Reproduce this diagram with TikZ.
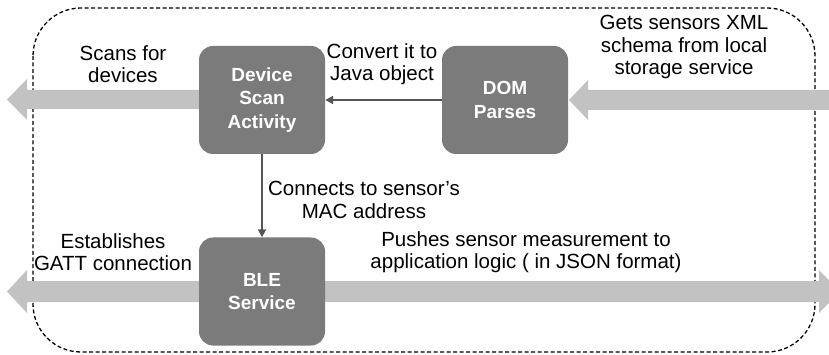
\documentclass[tikz,border=0pt]{standalone}
\usepackage{fontspec}
\setmainfont{Liberation Sans}
\usetikzlibrary{arrows.meta}
\definecolor{boxgray}{HTML}{7B7B7B}
\definecolor{flowgray}{HTML}{C2C2C2}
\definecolor{linegray}{HTML}{555555}
\begin{document}
\begin{tikzpicture}[x=1pt,y=-1pt,
  proc/.style={rectangle, rounded corners=14pt, fill=boxgray, minimum width=126pt, minimum height=108pt,
    text=white, font=\fontsize{19}{23.5}\selectfont\bfseries, align=center, inner sep=0pt},
  lbl/.style={font=\fontsize{20.5}{22.5}\selectfont, align=center, inner sep=0pt, text=black},
  bigflow/.style={draw=none, fill=flowgray},
  thin/.style={draw=linegray, line width=1.8pt, -{Triangle[length=8pt,width=8pt]}}
]
\useasboundingbox (0,0) rectangle (829,355);
% boundary
\draw[line width=1.3pt, dash pattern=on 4pt off 2.5pt, rounded corners=48pt] (33,8) rectangle (815,352);
% big flow arrows
\fill[flowgray] (199,90) -- (27,90) -- (27,79) -- (7,99.5) -- (27,120) -- (27,109) -- (199,109) -- cycle;
\fill[flowgray] (840,90) -- (588,90) -- (588,80) -- (569,100) -- (588,120) -- (588,110) -- (840,110) -- cycle;
\fill[flowgray] (199,281) -- (27,281) -- (27,270) -- (7,291.5) -- (27,313) -- (27,302) -- (199,302) -- cycle;
\fill[flowgray] (325,281) -- (819,281) -- (819,270) -- (840,291.5) -- (819,313) -- (819,302) -- (325,302) -- cycle;
% process nodes
\node[proc] (dsa) at (262,100) {Device\\Scan\\Activity};
\node[proc] (dom) at (505,100) {DOM\\Parses};
\node[proc] (ble) at (262,291.5) {BLE\\Service};
% thin connectors
\draw[thin] (dom.west) -- (dsa.east);
\draw[thin] (dsa.south) -- (ble.north);
% labels
\node[lbl] (l1) at (123,64) {Scans for\\devices};
\node[lbl] (l2) at (382,64) {Convert it to\\Java object};
\node[lbl] (l3) at (684,47) {Gets sensors XML\\schema from local\\storage service};
\node[lbl] (l4) at (364,200) {Connects to sensor’s\\MAC address};
\node[lbl] (l5) at (113,252) {Establishes\\GATT connection};
\node[lbl] (l6) at (526,252) {Pushes sensor measurement to\\application logic ( in JSON format)};
\end{tikzpicture}
\end{document}
